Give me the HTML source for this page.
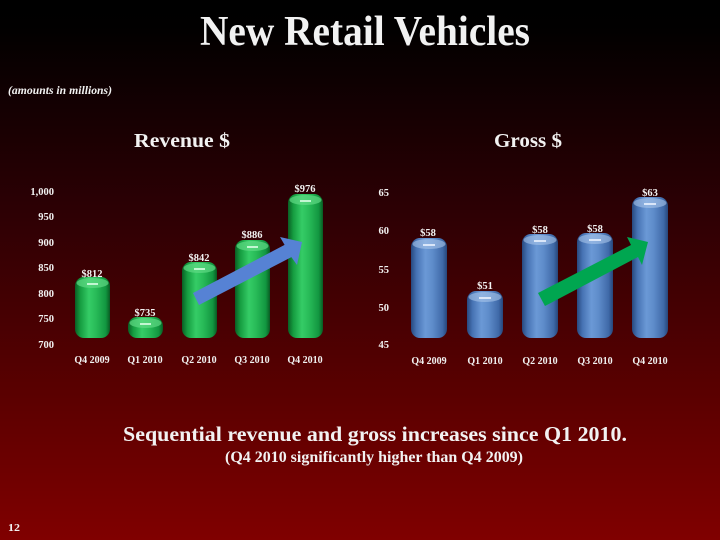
<!DOCTYPE html>
<html><head><meta charset="utf-8"><style>
html,body{margin:0;padding:0;background:#000;}
svg{display:block;}
text{font-family:"Liberation Serif",serif;font-weight:bold;fill:#f2f2f2;}
</style></head><body>
<svg width="720" height="540" viewBox="0 0 720 540" xmlns="http://www.w3.org/2000/svg">
<defs>
<linearGradient id="bg" x1="0" y1="0" x2="0" y2="1">
<stop offset="0" stop-color="#000000"/>
<stop offset="0.05" stop-color="#010000"/>
<stop offset="0.4" stop-color="#2e0004"/>
<stop offset="0.75" stop-color="#5d0000"/>
<stop offset="1" stop-color="#800000"/>
</linearGradient>
<linearGradient id="gg" x1="0" y1="0" x2="1" y2="0">
<stop offset="0" stop-color="#0a5e24"/>
<stop offset="0.15" stop-color="#159c40"/>
<stop offset="0.4" stop-color="#35cc66"/>
<stop offset="0.6" stop-color="#28bb58"/>
<stop offset="0.88" stop-color="#129640"/>
<stop offset="1" stop-color="#095a22"/>
</linearGradient>
<linearGradient id="bb" x1="0" y1="0" x2="1" y2="0">
<stop offset="0" stop-color="#27487e"/>
<stop offset="0.15" stop-color="#4672b3"/>
<stop offset="0.4" stop-color="#6b99d6"/>
<stop offset="0.6" stop-color="#5e8cca"/>
<stop offset="0.88" stop-color="#3f69a8"/>
<stop offset="1" stop-color="#26467a"/>
</linearGradient>
</defs>
<rect x="0" y="0" width="720" height="540" fill="url(#bg)"/>

<text x="200" y="45" font-size="42" textLength="330" lengthAdjust="spacingAndGlyphs">New Retail Vehicles</text>
<text x="8" y="94" font-size="12" font-style="italic" textLength="104" lengthAdjust="spacingAndGlyphs">(amounts in millions)</text>
<text x="134" y="147" font-size="20" textLength="96" lengthAdjust="spacingAndGlyphs">Revenue $</text>
<text x="494" y="147" font-size="20" textLength="68" lengthAdjust="spacingAndGlyphs">Gross $</text>

<!-- Left axis labels -->
<g font-size="10.5" text-anchor="end">
<text x="54" y="195">1,000</text>
<text x="54" y="220">950</text>
<text x="54" y="246">900</text>
<text x="54" y="271">850</text>
<text x="54" y="297">800</text>
<text x="54" y="322">750</text>
<text x="54" y="348">700</text>
</g>

<!-- Left bars -->
<g>
<rect x="75" y="277" width="35" height="61" rx="9" fill="url(#gg)"/>
<ellipse cx="92.5" cy="283" rx="16" ry="5" fill="#5fda85" opacity="0.7"/>
<rect x="87" y="283" width="11" height="2" fill="#dfffe8" opacity="0.8"/>

<rect x="128" y="317" width="35" height="21" rx="9" fill="url(#gg)"/>
<ellipse cx="145.5" cy="323" rx="16" ry="5" fill="#5fda85" opacity="0.7"/>
<rect x="140" y="323" width="11" height="2" fill="#dfffe8" opacity="0.8"/>

<rect x="182" y="262" width="35" height="76" rx="9" fill="url(#gg)"/>
<ellipse cx="199.5" cy="268" rx="16" ry="5" fill="#5fda85" opacity="0.7"/>
<rect x="194" y="268" width="11" height="2" fill="#dfffe8" opacity="0.8"/>

<rect x="235" y="240" width="35" height="98" rx="9" fill="url(#gg)"/>
<ellipse cx="252.5" cy="246" rx="16" ry="5" fill="#5fda85" opacity="0.7"/>
<rect x="247" y="246" width="11" height="2" fill="#dfffe8" opacity="0.8"/>

<rect x="288" y="194" width="35" height="144" rx="9" fill="url(#gg)"/>
<ellipse cx="305.5" cy="200" rx="16" ry="5" fill="#5fda85" opacity="0.7"/>
<rect x="300" y="200" width="11" height="2" fill="#dfffe8" opacity="0.8"/>
</g>

<g font-size="10.5" text-anchor="middle">
<text x="92" y="277">$812</text>
<text x="145" y="316">$735</text>
<text x="199" y="261">$842</text>
<text x="252" y="238">$886</text>
<text x="305" y="192">$976</text>
</g>
<g font-size="10" text-anchor="middle">
<text x="92" y="363">Q4 2009</text>
<text x="145" y="363">Q1 2010</text>
<text x="199" y="363">Q2 2010</text>
<text x="252" y="363">Q3 2010</text>
<text x="305" y="363">Q4 2010</text>
</g>

<polygon points="193,293 284.6,244.9 280,237 302,242 297,265 291.4,257.1 199,305" fill="#5682d4"/>

<!-- Right axis labels -->
<g font-size="10.5" text-anchor="end">
<text x="389" y="196">65</text>
<text x="389" y="234">60</text>
<text x="389" y="273">55</text>
<text x="389" y="311">50</text>
<text x="389" y="348">45</text>
</g>

<!-- Right bars -->
<g>
<rect x="411" y="238" width="36" height="100" rx="9" fill="url(#bb)"/>
<ellipse cx="429" cy="244" rx="16.5" ry="5" fill="#a8c4ea" opacity="0.6"/>
<rect x="423" y="244" width="12" height="2" fill="#eef4ff" opacity="0.8"/>

<rect x="467" y="291" width="36" height="47" rx="9" fill="url(#bb)"/>
<ellipse cx="485" cy="297" rx="16.5" ry="5" fill="#a8c4ea" opacity="0.6"/>
<rect x="479" y="297" width="12" height="2" fill="#eef4ff" opacity="0.8"/>

<rect x="522" y="234" width="36" height="104" rx="9" fill="url(#bb)"/>
<ellipse cx="540" cy="240" rx="16.5" ry="5" fill="#a8c4ea" opacity="0.6"/>
<rect x="534" y="240" width="12" height="2" fill="#eef4ff" opacity="0.8"/>

<rect x="577" y="233" width="36" height="105" rx="9" fill="url(#bb)"/>
<ellipse cx="595" cy="239" rx="16.5" ry="5" fill="#a8c4ea" opacity="0.6"/>
<rect x="589" y="239" width="12" height="2" fill="#eef4ff" opacity="0.8"/>

<rect x="632" y="197" width="36" height="141" rx="9" fill="url(#bb)"/>
<ellipse cx="650" cy="203" rx="16.5" ry="5" fill="#a8c4ea" opacity="0.6"/>
<rect x="644" y="203" width="12" height="2" fill="#eef4ff" opacity="0.8"/>
</g>

<g font-size="10.5" text-anchor="middle">
<text x="428" y="236">$58</text>
<text x="485" y="289">$51</text>
<text x="540" y="233">$58</text>
<text x="595" y="232">$58</text>
<text x="650" y="196">$63</text>
</g>
<g font-size="10" text-anchor="middle">
<text x="429" y="364">Q4 2009</text>
<text x="485" y="364">Q1 2010</text>
<text x="540" y="364">Q2 2010</text>
<text x="595" y="364">Q3 2010</text>
<text x="650" y="364">Q4 2010</text>
</g>

<polygon points="538,293 631,245 627,237 648,242 642,265 638,257 545,306" fill="#00a650"/>

<text x="123" y="441" font-size="21" textLength="504" lengthAdjust="spacingAndGlyphs">Sequential revenue and gross increases since Q1 2010.</text>
<text x="225" y="462" font-size="15.5" textLength="298" lengthAdjust="spacingAndGlyphs">(Q4 2010 significantly higher than Q4 2009)</text>
<text x="8" y="531" font-size="11" textLength="12" lengthAdjust="spacingAndGlyphs">12</text>
</svg>
</body></html>
